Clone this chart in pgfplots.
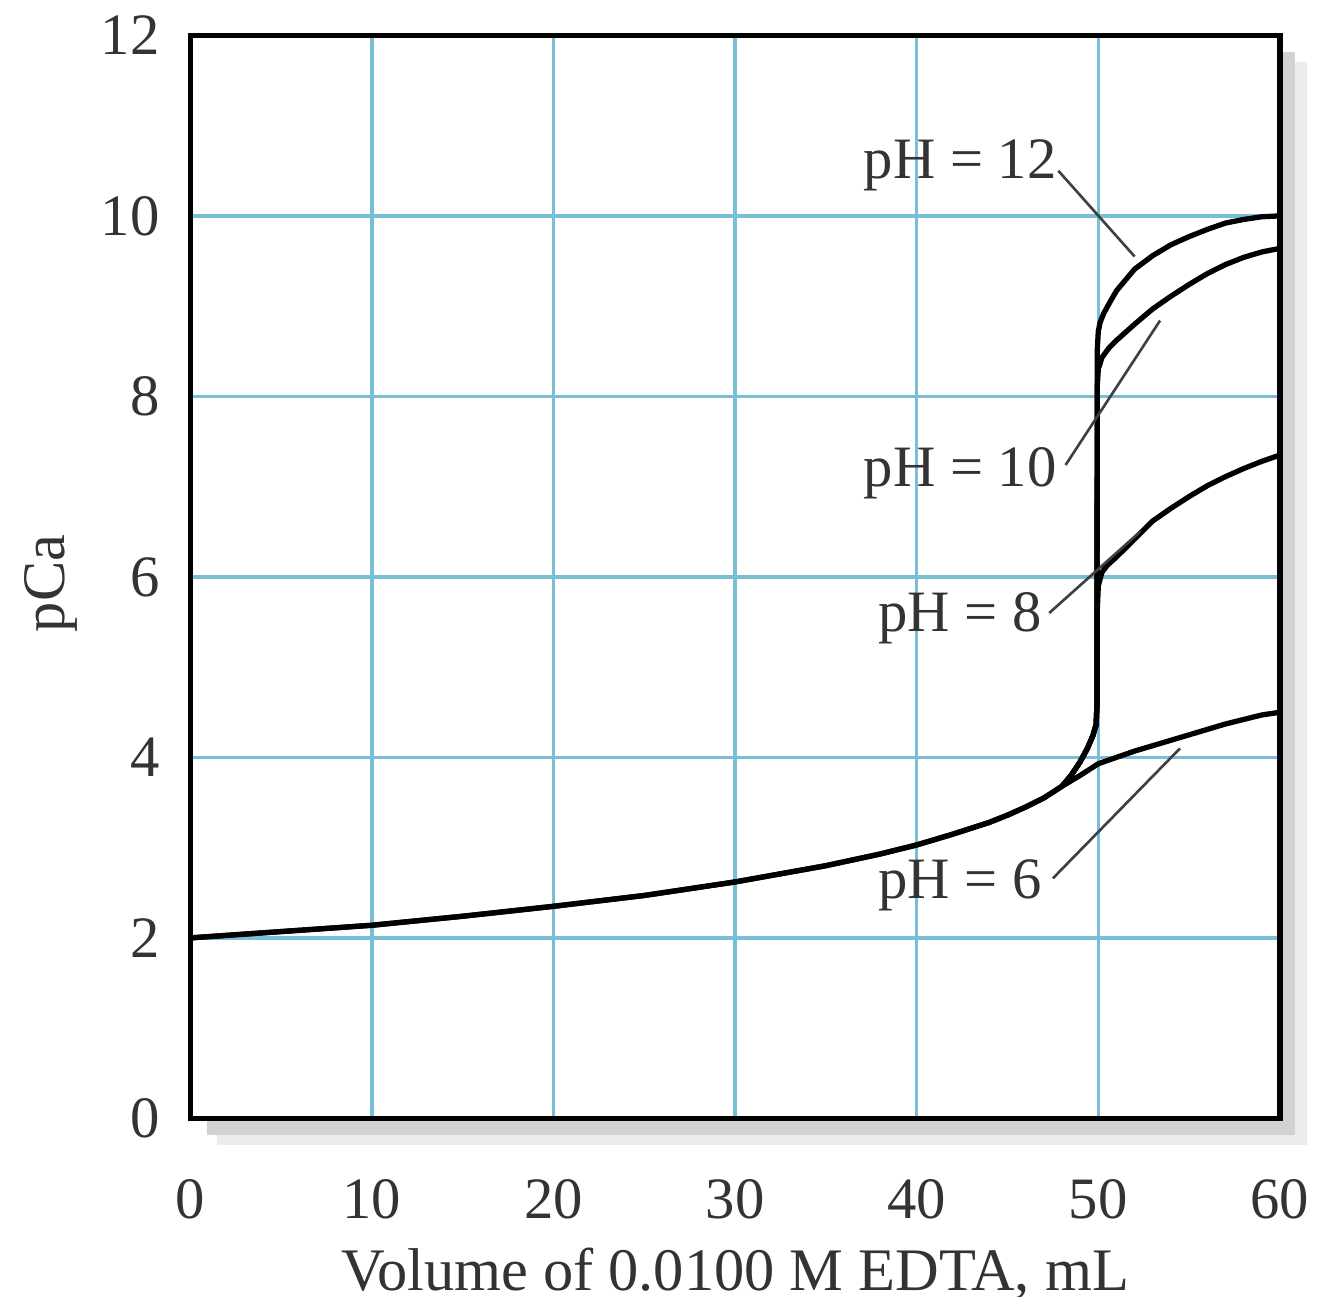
\documentclass[border=0pt]{standalone}
\usepackage{fontspec}
\setmainfont{Liberation Serif}
\usepackage{pgfplots}
\pgfplotsset{compat=1.18}
\definecolor{gridblue}{RGB}{120,190,215}

\begin{document}
\begin{tikzpicture}
% drop shadow of the plot box
\fill[gray!15] (1.30cm,0.91cm) rectangle (7.83cm,7.40cm);
\fill[gray!35] (1.24cm,0.97cm) rectangle (7.76cm,7.46cm);
\begin{axis}[
  at={(1.14cm,1.07cm)}, anchor=south west,
  scale only axis, width=6.53cm, height=6.49cm,
  xmin=0, xmax=60, ymin=0, ymax=12,
  xtick={0,10,...,60}, ytick={0,2,...,12},
  grid=major, grid style={gridblue, line width=0.6pt},
  major tick length=0pt,
  axis line style={line width=0.9pt},
  axis background/.style={fill=white},
  tick label style={font=\fontsize{10}{12}\selectfont, text=black!80},
  xticklabel style={yshift=-0.24cm},
  yticklabel style={xshift=-0.06cm},
  /pgf/number format/assume math mode=true,
  xlabel={Volume of 0.0100 M EDTA, mL},
  ylabel={pCa},
  label style={font=\fontsize{10.3}{12}\selectfont, text=black!80},
  xlabel style={at={(axis description cs:0.5,-0.159)}, anchor=base},
  ylabel style={at={(axis description cs:-0.128,0.494)}, anchor=center},
]
% pH = 6
\addplot[black, line width=0.9pt] coordinates {
  (0,2.00)(5,2.07)(10,2.14)(15,2.24)(20,2.35)(25,2.47)(30,2.62)(35,2.80)
  (38,2.93)(40,3.03)(42,3.15)(44,3.28)(45,3.36)(46,3.45)(47,3.55)(48,3.68)
  (49,3.80)(50,3.93)(51,4.00)(52,4.07)(53,4.13)(54,4.19)(55,4.25)(56,4.31)
  (57,4.37)(58,4.42)(59,4.47)(60,4.50)
};
% pH = 8
\addplot[black, line width=0.9pt] coordinates {
  (0,2.00)(5,2.07)(10,2.14)(15,2.24)(20,2.35)(25,2.47)(30,2.62)(35,2.80)
  (38,2.93)(40,3.03)(42,3.15)(44,3.28)(45,3.36)(46,3.45)(47,3.55)(48,3.68)
  (48.5,3.80)(49,3.95)(49.4,4.10)(49.7,4.24)(49.88,4.36)(49.93,4.6)(49.94,5.6)
  (50.0,5.9)(50.2,6.05)(50.5,6.13)(51,6.22)(52,6.42)(53,6.62)(54,6.76)
  (55,6.89)(56,7.01)(57,7.11)(58,7.20)(59,7.28)(60,7.35)
};
% pH = 10
\addplot[black, line width=0.9pt] coordinates {
  (48,3.68)(48.5,3.80)(49,3.95)(49.4,4.10)(49.7,4.24)(49.88,4.36)(49.93,4.6)(49.94,8.1)
  (50.0,8.3)(50.2,8.43)(50.6,8.54)(51,8.62)(52,8.80)(53,8.97)(54,9.11)
  (55,9.24)(56,9.36)(57,9.46)(58,9.54)(59,9.60)(60,9.64)
};
% pH = 12
\addplot[black, line width=0.9pt] coordinates {
  (48,3.68)(48.5,3.80)(49,3.95)(49.4,4.10)(49.7,4.24)(49.88,4.36)(49.93,4.6)(49.94,8.5)
  (50.0,8.72)(50.1,8.82)(50.3,8.92)(50.6,9.03)(51,9.17)(52,9.41)(53,9.56)
  (54,9.68)(55,9.77)(56,9.85)(57,9.92)(58,9.96)(59,9.99)(60,10.0)
};
% labels with leader lines
\begin{scope}[every node/.style={font=\fontsize{10}{12}\selectfont, text=black!80}]
\node at (axis cs:42.4,10.56) {pH = 12};
\node at (axis cs:42.4,7.15) {pH = 10};
\node at (axis cs:42.4,5.54) {pH = 8};
\node at (axis cs:42.4,2.58) {pH = 6};
\end{scope}
\draw[black!75, line width=0.45pt] (axis cs:47.8,10.50) -- (axis cs:52.0,9.55);
\draw[black!75, line width=0.45pt] (axis cs:48.2,7.24) -- (axis cs:53.4,8.84);
\draw[black!75, line width=0.45pt] (axis cs:47.3,5.60) -- (axis cs:52.3,6.50);
\draw[black!75, line width=0.45pt] (axis cs:47.5,2.66) -- (axis cs:54.5,4.10);
\end{axis}
\pgfresetboundingbox
\path[use as bounding box] (0,0) rectangle (8cm,7.772cm);
\end{tikzpicture}
\end{document}
